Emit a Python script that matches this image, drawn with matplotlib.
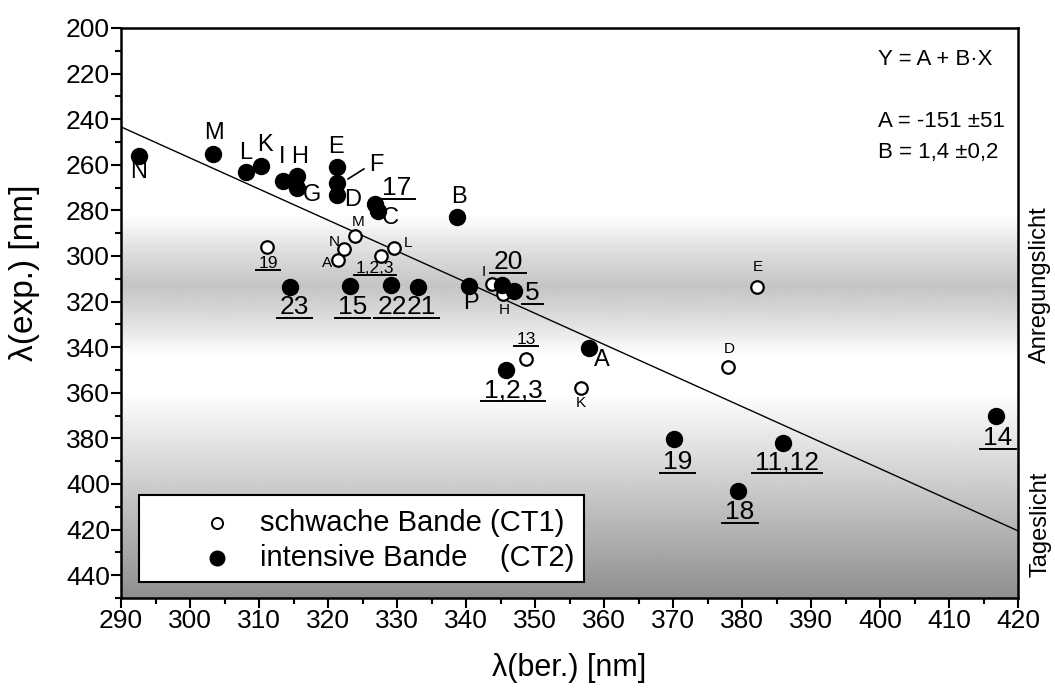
import numpy as np
import matplotlib
matplotlib.use("Agg")
import matplotlib.pyplot as plt
from matplotlib.lines import Line2D
from matplotlib.patches import Rectangle
from matplotlib.ticker import MultipleLocator

plt.rcParams["font.family"] = ["Liberation Sans", "DejaVu Sans"]

# CT2: intensive Bande (filled)
ct2_names = ["N", "M", "L", "K", "I", "H", "G", "E", "F", "D", "17", "C", "B",
             "P", "23", "15", "22", "21", "20", "5", "A", "1,2,3", "19", "18",
             "11,12", "14"]
ct2_x = [292.6, 303.3, 308.1, 310.3, 313.5, 315.5, 315.5, 321.3, 321.3, 321.3,
         326.8, 327.2, 338.7, 340.4, 314.5, 323.2, 329.1, 333.0, 345.2, 347.0,
         357.8, 345.8, 370.1, 379.4, 385.9, 416.8]
ct2_y = [256.1, 255.3, 263.2, 260.5, 267.1, 264.9, 270.2, 261.0, 268.0, 273.2,
         277.2, 280.3, 282.9, 313.2, 313.6, 313.2, 312.7, 313.6, 312.7, 315.4,
         340.4, 350.0, 380.3, 403.1, 382.0, 370.2]

# CT1: schwache Bande (open)
ct1_names = ["19", "A", "N", "M", "1,2,3", "L", "I", "H", "13", "K", "D", "E"]
ct1_x = [311.2, 321.4, 322.3, 323.9, 327.7, 329.6, 343.8, 345.4, 348.7, 356.7,
         378.0, 382.2]
ct1_y = [296.1, 301.8, 297.0, 291.2, 300.0, 296.5, 312.3, 316.7, 345.2, 357.9,
         348.7, 313.6]

# fit Y = A + B*X
fit_A, fit_B = -151.9, 1.363

# label placement (data coords, text centre); numbers are underlined
ct2_lab = {"N": (292.6, 263.2), "M": (303.5, 246.1), "L": (308.1, 254.8),
           "K": (310.8, 251.3), "I": (313.3, 256.6), "H": (315.9, 256.6),
           "G": (317.7, 273.2), "E": (321.2, 252.2), "F": (327.0, 260.1),
           "D": (323.6, 275.4), "17": (330.0, 270.2), "C": (329.0, 283.3),
           "B": (339.0, 274.1), "P": (340.7, 320.6), "20": (346.1, 302.6),
           "5": (349.6, 316.2), "A": (359.7, 345.6), "1,2,3": (346.8, 358.8),
           "23": (315.1, 322.4), "15": (323.6, 322.4), "22": (329.3, 322.4),
           "21": (333.5, 322.4), "19": (370.6, 390.4), "18": (379.7, 412.3),
           "11,12": (386.5, 390.4), "14": (417.1, 379.8)}
ct1_lab = {"19": (311.3, 303.1), "A": (319.9, 303.1), "N": (320.9, 293.9),
           "M": (324.3, 285.1), "1,2,3": (326.8, 305.7), "L": (331.6, 294.3),
           "I": (342.5, 307.0), "H": (345.5, 323.7), "13": (348.7, 336.8),
           "K": (356.7, 364.5), "D": (378.1, 340.8), "E": (382.3, 304.8)}

fig = plt.figure(figsize=(10.55, 6.93), dpi=100)
ax = fig.add_axes([0.1147, 0.1371, 0.8503, 0.8225])
ax.set_xlim(290, 420)
ax.set_ylim(450, 200)

# background shading: Anregungslicht band and Tageslicht gradient
gy = np.linspace(200, 450, 500)
stops_y = [200, 282, 298, 313, 328, 344, 360, 450]
stops_g = [1.0, 1.0, 0.87, 0.77, 0.87, 1.0, 1.0, 0.56]
shade = np.interp(gy, stops_y, stops_g)[:, None]
ax.imshow(shade, cmap="gray", vmin=0, vmax=1, aspect="auto",
          extent=[290, 420, 450, 200], interpolation="bilinear", zorder=0)

xx = np.array([290, 420])
ax.plot(xx, fit_A + fit_B * xx, color="k", lw=1.0, zorder=2)

ax.plot(ct1_x, ct1_y, "o", ms=9, mfc="white", mec="k", mew=1.6, ls="none", zorder=3)
ax.plot(ct2_x, ct2_y, "o", ms=11.5, mfc="k", mec="k", ls="none", zorder=4)

underlined = []
for name, (tx, ty) in ct2_lab.items():
    num = name[0].isdigit()
    t = ax.text(tx, ty, name, ha="center", va="center",
                fontsize=19 if num else 17, zorder=5)
    if num:
        underlined.append(t)
for name, (tx, ty) in ct1_lab.items():
    num = name[0].isdigit()
    t = ax.text(tx, ty, name, ha="center", va="center",
                fontsize=12.5 if num else 11, zorder=5)
    if num:
        underlined.append(t)

# connector F
ax.plot([322.9, 325.2], [266.2, 261.8], color="k", lw=1.2, zorder=5)

ax.text(399.7, 214, "Y = A + B·X", fontsize=16, va="center")
ax.text(399.7, 240.8, "A = -151 ±51", fontsize=16, va="center")
ax.text(399.7, 254.4, "B = 1,4 ±0,2", fontsize=16, va="center")

trans = ax.get_yaxis_transform()
ax.text(1.0245, 312.7, "Anregungslicht", transform=trans, rotation=90,
        ha="center", va="center", fontsize=17)
ax.text(1.0245, 417.5, "Tageslicht", transform=trans, rotation=90,
        ha="center", va="center", fontsize=17)

ax.set_xlabel("λ(ber.) [nm]", fontsize=22, labelpad=14)
ax.set_ylabel("λ(exp.) [nm]", fontsize=24)
ax.yaxis.set_label_coords(-0.09, 0.57)
ax.xaxis.set_major_locator(MultipleLocator(10))
ax.xaxis.set_minor_locator(MultipleLocator(5))
ax.yaxis.set_minor_locator(MultipleLocator(10))
ax.set_yticks(np.arange(200, 441, 20))
ax.tick_params(which="both", direction="out", width=1.5, labelsize=19,
               top=False, right=False)
ax.tick_params(which="major", length=7, pad=1)
ax.tick_params(which="minor", length=4)
for sp in ax.spines.values():
    sp.set_linewidth(1.8)

# legend box drawn by hand to match the reference layout
ax.add_patch(Rectangle((0.0201, 0.028), 0.4961, 0.153, transform=ax.transAxes,
                       facecolor="white", edgecolor="k", lw=1.5, zorder=6))
ax.plot([0.107], [0.1316], "o", ms=8, mfc="white", mec="k", mew=1.4,
        transform=ax.transAxes, zorder=7)
ax.plot([0.107], [0.0702], "o", ms=10.5, mfc="k", mec="k",
        transform=ax.transAxes, zorder=7)
ax.text(0.155, 0.1316, "schwache Bande (CT1)", transform=ax.transAxes,
        va="center", fontsize=21, zorder=7)
ax.text(0.155, 0.0702, "intensive Bande    (CT2)", transform=ax.transAxes,
        va="center", fontsize=21, zorder=7)

# underline the numeric labels
fig.canvas.draw()
r = fig.canvas.get_renderer()
inv = fig.transFigure.inverted()
for t in underlined:
    bb = t.get_window_extent(r)
    pad = 3 if t.get_fontsize() > 15 else 2
    (x0, y0), (x1, _) = inv.transform([(bb.x0 - pad, bb.y0 + 1), (bb.x1 + pad, bb.y0)])
    fig.add_artist(Line2D([x0, x1], [y0, y0], color="k", lw=1.4,
                          transform=fig.transFigure, zorder=7))

fig.savefig("out.png", dpi=100)
